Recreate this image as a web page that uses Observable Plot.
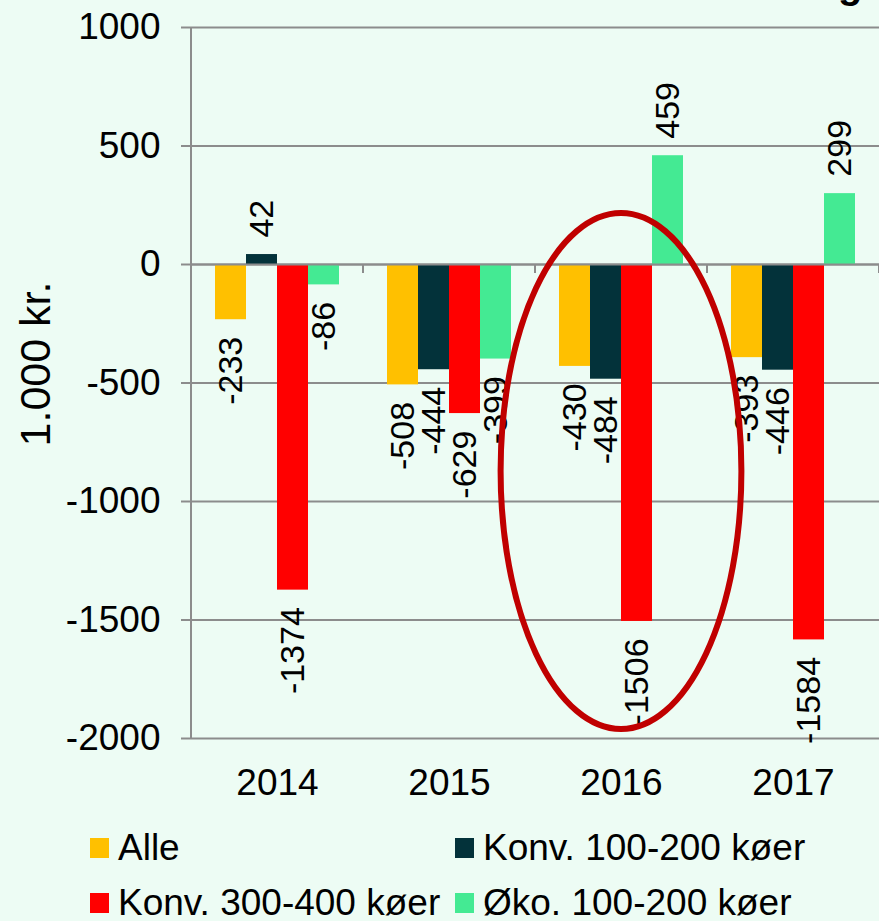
<!DOCTYPE html>
<html>
<head>
<meta charset="utf-8">
<script src="https://cdn.jsdelivr.net/npm/d3@7"></script>
<script src="https://cdn.jsdelivr.net/npm/@observablehq/plot@0.6"></script>
<style>
  html, body { margin: 0; padding: 0; background: #EDFCF4; }
  body { width: 879px; height: 921px; overflow: hidden; position: relative;
         font-family: "Liberation Sans", Arial, sans-serif; color: #000; }
  #title { position: absolute; left: 838px; top: -36px; font-size: 40px; line-height: 40px; font-weight: bold; white-space: nowrap; }
  #chart { position: absolute; left: 0; top: 0; }
  #legend { position: absolute; left: 90px; top: 820px; display: grid;
            grid-template-columns: 365px 400px; grid-auto-rows: 55px; font-size: 37px; }
  .item { display: flex; align-items: center; white-space: nowrap; }
  .sw { width: 19px; height: 20px; margin-right: 9px; flex: none; }
</style>
</head>
<body>
<div id="chart"></div>
<div id="title">g</div>
<div id="legend"></div>
<script>
// ---- data ----
const years = ["2014", "2015", "2016", "2017"];
const series = ["Alle", "Konv. 100-200 køer", "Konv. 300-400 køer", "Øko. 100-200 køer"];
const alle = [-233, -508, -430, -393];
const konv100 = [42, -444, -484, -446];
const konv300 = [-1374, -629, -1506, -1584];
const oko = [-86, -399, 459, 299];
const colors = ["#FFC000", "#03323A", "#FF0000", "#44EA93"];
const yTicks = [-2000, -1500, -1000, -500, 0, 500, 1000];
const yLabel = "1.000 kr.";
// annotation ellipse around 2016 (value range it spans)
const ellipseYear = "2016";
const ellipseTop = 215;
const ellipseBottom = -1962;
const ellipseWidthFrac = 1.4;

const valuesBySeries = [alle, konv100, konv300, oko];
const data = [];
years.forEach((yr, i) => series.forEach((s, j) => data.push({year: yr, series: s, value: valuesBySeries[j][i]})));

const grey = "#8C8C8C";
const chart = Plot.plot({
  width: 879,
  height: 815,
  marginLeft: 190,
  marginRight: 0,
  marginTop: 27,
  marginBottom: 77,
  style: {fontFamily: '"Liberation Sans", Arial, sans-serif', fontSize: "37px", background: "transparent", overflow: "visible", color: "#000"},
  fx: {domain: years, padding: 0, label: null, axis: "bottom", tickSize: 0, tickPadding: 30, fontSize: 37},
  x: {domain: series, paddingInner: 0, paddingOuter: 0.75, axis: null},
  y: {domain: [-2000, 1000], axis: null},
  color: {domain: series, range: colors},
  marks: [
    Plot.gridY(yTicks, {stroke: grey, strokeOpacity: 1, strokeWidth: 2}),
    Plot.barY(data, {fx: "year", x: "series", y: "value", fill: "series", inset: 0}),
    Plot.ruleY([0], {stroke: grey, strokeWidth: 2}),
    Plot.axisY(yTicks, {anchor: "left", tickSize: 10, tickPadding: 21, stroke: grey, strokeWidth: 2, color: "#000", fontSize: 37, label: null, tickFormat: d => String(d)}),
    Plot.text(data.filter(d => d.value < 0), {fx: "year", x: "series", y: "value", text: d => String(d.value), rotate: -90, textAnchor: "end", dy: 17, fontSize: 34, fill: "#000"}),
    Plot.text(data.filter(d => d.value >= 0), {fx: "year", x: "series", y: "value", text: d => String(d.value), rotate: -90, textAnchor: "start", dy: -17, fontSize: 34, fill: "#000"}),
    Plot.text([yLabel], {fx: [years[0]], frameAnchor: "left", rotate: -90, textAnchor: "middle", dx: -155, dy: -19, fontSize: 43, fill: "#000"})
  ]
});

// extra decorations derived from the plot's own scales
const fx = chart.scale("fx");
const ys = chart.scale("y");
const svg = d3.select(chart);
const bw = fx.bandwidth;
const y0 = ys.apply(0);
const deco = svg.append("g");
// y axis line
deco.append("line")
  .attr("x1", fx.apply(years[0])).attr("x2", fx.apply(years[0]))
  .attr("y1", ys.apply(1000)).attr("y2", ys.apply(-2000))
  .attr("stroke", grey).attr("stroke-width", 2);
// category separator ticks on the zero line
const bounds = years.map(yr => fx.apply(yr)).concat([fx.apply(years[years.length - 1]) + bw]);
bounds.forEach(bx => deco.append("line")
  .attr("x1", bx).attr("x2", bx).attr("y1", y0).attr("y2", y0 + 9)
  .attr("stroke", grey).attr("stroke-width", 2));
// highlight ellipse
const ey1 = ys.apply(ellipseTop), ey2 = ys.apply(ellipseBottom);
deco.append("ellipse")
  .attr("cx", fx.apply(ellipseYear) + bw / 2)
  .attr("cy", (ey1 + ey2) / 2)
  .attr("rx", bw * ellipseWidthFrac / 2)
  .attr("ry", (ey2 - ey1) / 2)
  .attr("fill", "none").attr("stroke", "#C00000").attr("stroke-width", 6);

document.getElementById("chart").appendChild(chart);

// legend
const legend = document.getElementById("legend");
series.forEach((s, i) => {
  const it = document.createElement("div");
  it.className = "item";
  const sw = document.createElement("span");
  sw.className = "sw";
  sw.style.background = colors[i];
  it.appendChild(sw);
  it.appendChild(document.createTextNode(s));
  legend.appendChild(it);
});
</script>
</body>
</html>
